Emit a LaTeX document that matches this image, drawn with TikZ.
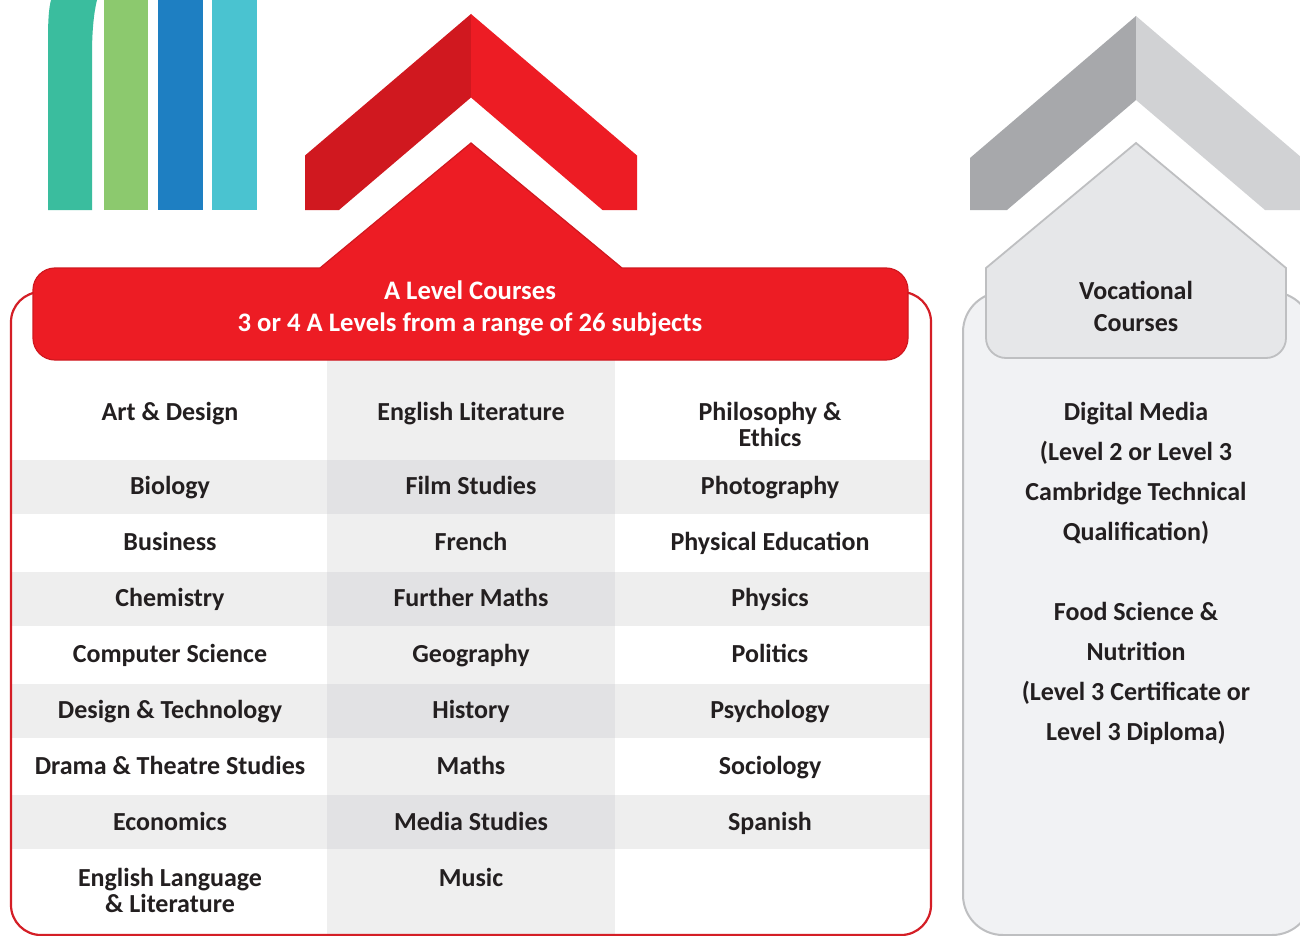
\documentclass[tikz,border=0pt]{standalone}
\usepackage{fontspec}
\setmainfont{Carlito}
\definecolor{txt}{HTML}{231F20}
\definecolor{redA}{HTML}{ED1C24}
\definecolor{redB}{HTML}{D0181F}
\definecolor{redLine}{HTML}{D41E26}
\definecolor{rowg}{HTML}{EEEEEE}
\definecolor{colg}{HTML}{EFEFEF}
\definecolor{colgd}{HTML}{E2E2E4}
\definecolor{vocbg}{HTML}{F1F2F4}
\definecolor{vocline}{HTML}{BEBFC1}
\definecolor{housefill}{HTML}{E6E7E9}
\definecolor{greyA}{HTML}{A7A8AB}
\definecolor{greyB}{HTML}{D1D2D4}
\definecolor{barA}{HTML}{3ABD9E}
\definecolor{barB}{HTML}{8CC96E}
\definecolor{barC}{HTML}{1E7FC2}
\definecolor{barD}{HTML}{4AC3D0}
\begin{document}
\begin{tikzpicture}[x=1pt,y=-1pt,
  lbl/.style={font=\fontsize{26}{28}\selectfont\bfseries, text=txt, anchor=base, inner sep=0pt},
  wlbl/.style={lbl, text=white, font=\fontsize{26.7}{28}\selectfont\bfseries},
  rowfill/.style={fill=rowg, draw=none},
  col2fill/.style={fill=colg, draw=none},
  col2dark/.style={fill=colgd, draw=none}]
\useasboundingbox (0,0) rectangle (1300,936);
\fill[white] (0,0) rectangle (1300,936);

% bars
\fill[barA] (48,210) -- (48,40) .. controls (48,18) and (49,8) .. (51,0) -- (97,0) .. controls (94,12) and (92,30) .. (92,55) -- (92,210) -- cycle;
\fill[barB] (104,0) rectangle (148,210);
\fill[barC] (158,0) rectangle (203,210);
\fill[barD] (212,0) rectangle (257,210);

% red chevron
\fill[redB] (471,14) -- (305,155.5) -- (305,210) -- (339,210) -- (471,97.5) -- cycle;
\fill[redA] (471,14) -- (637,155.5) -- (637,210) -- (602.5,210) -- (471,97.5) -- cycle;

% grey chevron
\fill[greyA] (1136,16) -- (970,158) -- (970,210) -- (1007,210) -- (1136,100) -- cycle;
\fill[greyB] (1136,16) -- (1302,158) -- (1302,210) -- (1265,210) -- (1136,100) -- cycle;

% vocational background
\draw[fill=vocbg, draw=vocline, line width=2pt, rounded corners=40pt] (963,292) rectangle (1312,935);

% table fills
\fill[col2fill] (327,360) rectangle (615,936);
\foreach \a/\b in {460/514, 572/626, 684/738, 795/849}{
  \fill[rowfill] (12,\a) rectangle (930,\b);
  \fill[col2dark] (327,\a) rectangle (615,\b);
}

% red outer box
\draw[redLine, line width=2.2pt, rounded corners=30pt] (11,292) rectangle (931,935);

% red banner with house
\filldraw[fill=redA, draw=redB, line width=1.2pt]
  (55,268) -- (320,268) -- (471,143) -- (622,268) -- (886,268)
  arc[start angle=90, end angle=0, radius=22pt] -- (908,338)
  arc[start angle=0, end angle=-90, radius=22pt] -- (55,360)
  arc[start angle=270, end angle=180, radius=22pt] -- (33,290)
  arc[start angle=180, end angle=90, radius=22pt] -- cycle;
\node[wlbl] (t1) at (470,299) {A Level Courses};
\node[wlbl] (t2) at (470,331) {3 or 4 A Levels from a range of 26 subjects};

% grey house
\filldraw[fill=housefill, draw=vocline, line width=1.8pt]
  (1136,143) -- (1286,268) -- (1286,338)
  arc[start angle=0, end angle=-90, radius=20pt] -- (1006,358)
  arc[start angle=270, end angle=180, radius=20pt] -- (986,268) -- cycle;
\node[lbl] (v1) at (1136,299) {Vocational};
\node[lbl] (v2) at (1136,331) {Courses};

% column 1
\node[lbl] (a1) at (170,420) {Art \& Design};
\node[lbl] (a2) at (170,494) {Biology};
\node[lbl] (a3) at (170,550) {Business};
\node[lbl] (a4) at (170,606) {Chemistry};
\node[lbl] (a5) at (170,662) {Computer Science};
\node[lbl] (a6) at (170,718) {Design \& Technology};
\node[lbl] (a7) at (170,774) {Drama \& Theatre Studies};
\node[lbl] (a8) at (170,830) {Economics};
\node[lbl] (a9) at (170,886) {English Language};
\node[lbl] (a9b) at (170,912) {\& Literature};
% column 2
\node[lbl] (b1) at (471,420) {English Literature};
\node[lbl] (b2) at (471,494) {Film Studies};
\node[lbl] (b3) at (471,550) {French};
\node[lbl] (b4) at (471,606) {Further Maths};
\node[lbl] (b5) at (471,662) {Geography};
\node[lbl] (b6) at (471,718) {History};
\node[lbl] (b7) at (471,774) {Maths};
\node[lbl] (b8) at (471,830) {Media Studies};
\node[lbl] (b9) at (471,886) {Music};
% column 3
\node[lbl] (c1) at (770,420) {Philosophy \&};
\node[lbl] (c1b) at (770,446) {Ethics};
\node[lbl] (c2) at (770,494) {Photography};
\node[lbl] (c3) at (770,550) {Physical Education};
\node[lbl] (c4) at (770,606) {Physics};
\node[lbl] (c5) at (770,662) {Politics};
\node[lbl] (c6) at (770,718) {Psychology};
\node[lbl] (c7) at (770,774) {Sociology};
\node[lbl] (c8) at (770,830) {Spanish};

% vocational list
\node[lbl] (d1) at (1136,420) {Digital Media};
\node[lbl] (d2) at (1136,460) {(Level 2 or Level 3};
\node[lbl] (d3) at (1136,500) {Cambridge Technical};
\node[lbl] (d4) at (1136,540) {Qualification)};
\node[lbl] (e1) at (1136,620) {Food Science \&};
\node[lbl] (e2) at (1136,660) {Nutrition};
\node[lbl] (e3) at (1136,700) {(Level 3 Certificate or};
\node[lbl] (e4) at (1136,740) {Level 3 Diploma)};
\end{tikzpicture}
\end{document}
